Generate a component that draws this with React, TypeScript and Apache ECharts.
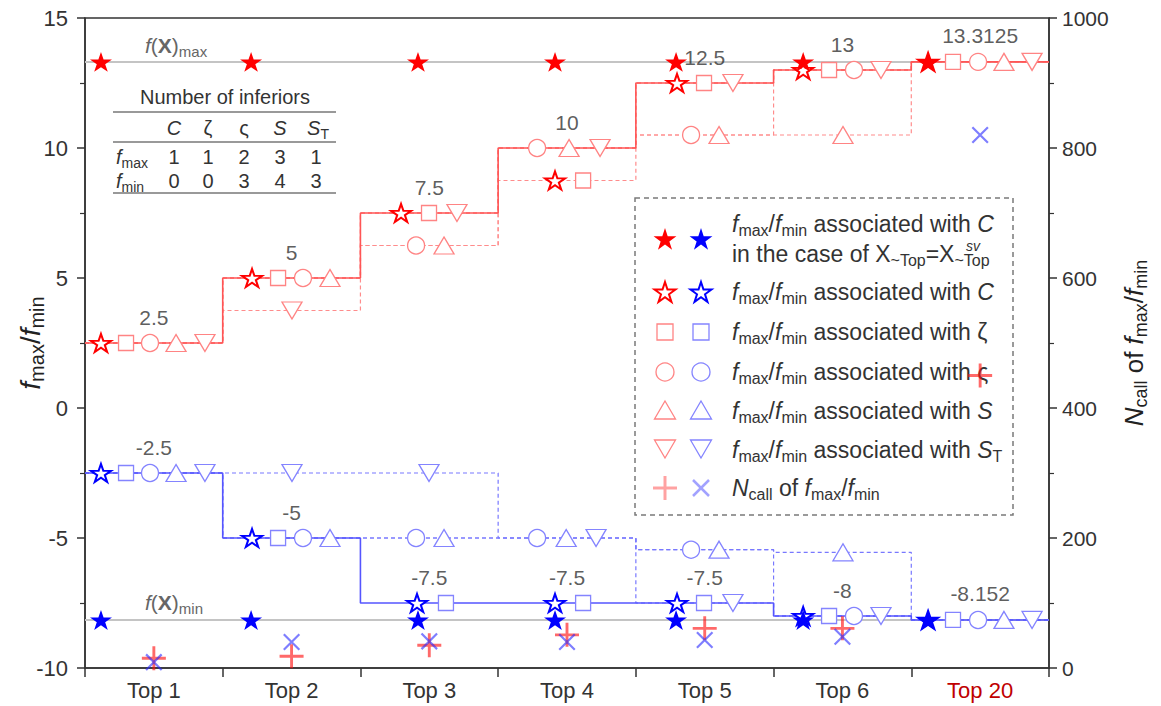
import React, { useEffect, useRef } from 'react';
import * as echarts from 'echarts';

const FONT = '"Liberation Sans", Arial, Helvetica, sans-serif';

const categories = ['Top 1', 'Top 2', 'Top 3', 'Top 4', 'Top 5', 'Top 6', 'Top 20'];

// f(X)max / f(X)min reference values
const fxMaxValue = 13.3125;
const fxMinValue = -8.152;

// f_max associated with each inferior
const fmaxC = [2.5, 5, 7.5, 8.75, 12.5, 13, 13.3125];
const fmaxZeta = [2.5, 5, 7.5, 8.75, 12.5, 13, 13.3125];
const fmaxVs = [2.5, 5, 6.25, 10, 10.5, 13, 13.3125];
const fmaxS = [2.5, 5, 6.25, 10, 10.5, 10.5, 13.3125];
const fmaxST = [2.5, 3.75, 7.5, 10, 12.5, 13, 13.3125];
// f_min associated with each inferior
const fminC = [-2.5, -5, -7.5, -7.5, -7.5, -8, -8.152];
const fminZeta = [-2.5, -5, -7.5, -7.5, -7.5, -8, -8.152];
const fminVs = [-2.5, -5, -5, -5, -5.45, -8, -8.152];
const fminS = [-2.5, -5, -5, -5, -5.45, -5.55, -8.152];
const fminST = [-2.5, -2.5, -2.5, -5, -7.5, -8, -8.152];
// best values (solid step lines, labelled)
const bestMax = [2.5, 5, 7.5, 10, 12.5, 13, 13.3125];
const bestMin = [-2.5, -5, -7.5, -7.5, -7.5, -8, -8.152];
// case X~Top = X^sv~Top
const svMax = [13.3125, 13.3125, 13.3125, 13.3125, 13.3125, 13.3125, 13.3125];
const svMin = [-8.152, -8.152, -8.152, -8.152, -8.152, -8.152, -8.152];
// N_call
const ncallMax = [15, 18, 35, 51, 61, 61, 450];
const ncallMin = [9, 40, 41, 40, 43, 48, 820];
// table: number of inferiors
const inferiorHeads = ['{i|C}', '{n|ζ}', '{n|ς}', '{i|S}', '{i|S}{s|T}'];
const inferiorsMax = [1, 1, 2, 3, 1];
const inferiorsMin = [0, 0, 3, 4, 3];

// slot of each marker inside its category (fraction of the category width)
const slotMaxC = [0.116, 0.213, 0.295, 0.413, 0.299, 0.215, 0.122];
const slotMaxZeta = [0.298, 0.402, 0.498, 0.617, 0.495, 0.403, 0.303];
const slotMaxVs = [0.472, 0.583, 0.404, 0.283, 0.401, 0.584, 0.485];
const slotMaxS = [0.661, 0.779, 0.607, 0.515, 0.604, 0.504, 0.673];
const slotMaxST = [0.871, 0.503, 0.701, 0.74, 0.705, 0.78, 0.877];
const slotMinC = [0.116, 0.213, 0.411, 0.413, 0.299, 0.215, 0.122];
const slotMinZeta = [0.298, 0.402, 0.621, 0.617, 0.495, 0.403, 0.303];
const slotMinVs = [0.472, 0.583, 0.404, 0.283, 0.401, 0.584, 0.485];
const slotMinS = [0.661, 0.779, 0.607, 0.494, 0.604, 0.504, 0.673];
const slotMinST = [0.871, 0.503, 0.498, 0.711, 0.705, 0.78, 0.877];
const slotSv = [0.116, 0.206, 0.418, 0.413, 0.292, 0.215, 0.122];

const STAR = 'path://M50,0 L61.23,34.55 L97.55,34.55 L68.17,55.9 L79.39,90.45 L50,69.1 L20.61,90.45 L31.83,55.9 L2.45,34.55 L38.77,34.55 Z';
const PLUS = 'path://M0,44 L100,44 L100,56 L0,56 Z M44,0 L56,0 L56,100 L44,100 Z';
const CROSS = 'path://M0,45 L100,45 L100,55 L0,55 Z M45,0 L55,0 L55,100 L45,100 Z';

const RED = '#ff0000';
const BLUE = '#0000ff';
const RED_LINE = '#ff5555';
const BLUE_LINE = '#5555ff';
const RED_MK = '#ff8484';
const BLUE_MK = '#8484ff';
const RED_DASH = '#ff8c8c';
const BLUE_DASH = '#7878ff';
const TXT = '#333333';

const stepPts = (vals: number[]) => vals.flatMap((v, i) => [[i, v], [i + 1, v]]);

const stepSeries = (vals: number[], color: string, width: number, dashed: boolean, z: number) => ({
  type: 'line',
  xAxisIndex: 1,
  yAxisIndex: 0,
  data: stepPts(vals),
  symbol: 'none',
  silent: true,
  z,
  lineStyle: { color, width, type: dashed ? [4, 3] : 'solid' },
});

const markSeries = (
  vals: number[], slots: number[], symbol: string, size: any, border: string,
  fill: string, bw: number, z: number, rotate = 0,
) => ({
  type: 'scatter',
  xAxisIndex: 1,
  yAxisIndex: 0,
  data: vals.map((v, i) => [i + slots[i], v]),
  symbol,
  symbolSize: size,
  symbolRotate: rotate,
  symbolKeepAspect: true,
  silent: true,
  z,
  itemStyle: { color: fill, borderColor: border, borderWidth: bw, opacity: 1 },
});

const aRich = (fs: number, color: string) => ({
  n: { fontSize: fs, fontFamily: FONT, color, lineHeight: fs + 6 },
  i: { fontSize: fs, fontFamily: FONT, fontStyle: 'italic', color, lineHeight: fs + 6 },
  s: { fontSize: Math.round(fs * 0.7), fontFamily: FONT, color, lineHeight: Math.round(fs * 0.7), verticalAlign: 'bottom' },
});

const gRich = (fs: number, color: string) => ({
  n: { fontSize: fs, fontFamily: FONT, fill: color, lineHeight: fs + 6 },
  i: { fontSize: fs, fontFamily: FONT, fontStyle: 'italic', fill: color, lineHeight: fs + 6 },
  b: { fontSize: fs, fontFamily: FONT, fontWeight: 'bold', fill: color, lineHeight: fs + 6 },
  s: { fontSize: Math.round(fs * 0.7), fontFamily: FONT, fill: color, lineHeight: Math.round(fs * 0.7), verticalAlign: 'bottom' },
});

const gText = (x: number, y: number, text: string, fs: number, color: string, align = 'left', italic = false) => ({
  type: 'text',
  x,
  y,
  z: 1,
  silent: true,
  style: {
    text,
    rich: gRich(fs, color),
    fontSize: fs,
    fontFamily: FONT,
    fontStyle: italic ? 'italic' : 'normal',
    fill: color,
    align,
    textAlign: align,
    verticalAlign: 'middle',
    textVerticalAlign: 'middle',
  },
});

const starPts = (cx: number, cy: number, R: number) => {
  const pts: number[][] = [];
  for (let k = 0; k < 10; k++) {
    const r = k % 2 === 0 ? R : R * 0.382;
    const a = -Math.PI / 2 + (k * Math.PI) / 5;
    pts.push([cx + r * Math.cos(a), cy + 1 + r * Math.sin(a)]);
  }
  return pts;
};

const gLine = (x1: number, y1: number, x2: number, y2: number, stroke: string, lineWidth: number) => ({
  type: 'line', z: 1, silent: true, shape: { x1, y1, x2, y2 }, style: { stroke, lineWidth },
});

function buildGraphic() {
  const els: any[] = [];
  // f(X)max / f(X)min captions
  els.push(gText(145, 45, '{i|f}{n|(}{b|X}{n|)}{s|max}', 21, '#666666'));
  els.push(gText(145, 602, '{i|f}{n|(}{b|X}{n|)}{s|min}', 21, '#666666'));

  // table
  els.push(gText(225, 97, 'Number of inferiors', 20, TXT, 'center'));
  els.push(gLine(113, 112, 336, 112, '#777777', 1.5));
  els.push(gLine(113, 142, 336, 142, '#777777', 1.5));
  els.push(gLine(113, 193, 336, 193, '#777777', 1.5));
  const colX = [174, 208, 244, 280, 318];
  inferiorHeads.forEach((h, k) => els.push(gText(colX[k], 128, h, 20, TXT, 'center')));
  els.push(gText(116, 157, '{i|f}{s|max}', 20, TXT));
  els.push(gText(116, 181, '{i|f}{s|min}', 20, TXT));
  inferiorsMax.forEach((v, k) => els.push(gText(colX[k] - (k === 4 ? 2 : 0), 157, String(v), 20, TXT, 'center')));
  inferiorsMin.forEach((v, k) => els.push(gText(colX[k] - (k === 4 ? 2 : 0), 181, String(v), 20, TXT, 'center')));

  // legend box
  els.push({
    type: 'rect', z: 1, silent: true,
    shape: { x: 635, y: 198, width: 378, height: 317 },
    style: { fill: 'none', stroke: '#7a7a7a', lineWidth: 1.5, lineDash: [5, 4] },
  });
  const xr = 665;
  const xb = 701;
  const lt = 732;
  const ff = '{i|f}{s|max}{n|/}{i|f}{s|min}';
  // row 1
  els.push({ type: 'polygon', z: 1, silent: true, shape: { points: starPts(xr, 239, 12) }, style: { fill: RED } });
  els.push({ type: 'polygon', z: 1, silent: true, shape: { points: starPts(xb, 239, 12) }, style: { fill: BLUE } });
  els.push(gText(lt, 224, ff + '{n| associated with }{i|C}', 23, TXT));
  els.push(gText(lt, 254, '{n|in the case of X}{s|~Top}{n|=X}{s|~Top}', 23, TXT));
  els.push(gText(966, 246, 'sv', 14, TXT, 'left', true));
  // row 2
  els.push({ type: 'polygon', z: 1, silent: true, shape: { points: starPts(xr, 292, 11) }, style: { fill: '#fff', stroke: RED, lineWidth: 2 } });
  els.push({ type: 'polygon', z: 1, silent: true, shape: { points: starPts(xb, 292, 11) }, style: { fill: '#fff', stroke: BLUE, lineWidth: 2 } });
  els.push(gText(lt, 292, ff + '{n| associated with }{i|C}', 23, TXT));
  // row 3
  els.push({ type: 'rect', z: 1, silent: true, shape: { x: xr - 8, y: 332 - 8, width: 16, height: 16 }, style: { fill: 'none', stroke: RED_MK, lineWidth: 1.3 } });
  els.push({ type: 'rect', z: 1, silent: true, shape: { x: xb - 8, y: 332 - 8, width: 16, height: 16 }, style: { fill: 'none', stroke: BLUE_MK, lineWidth: 1.3 } });
  els.push(gText(lt, 332, ff + '{n| associated with ζ}', 23, TXT));
  // row 4
  els.push({ type: 'circle', z: 1, silent: true, shape: { cx: xr, cy: 372, r: 9 }, style: { fill: 'none', stroke: RED_MK, lineWidth: 1.3 } });
  els.push({ type: 'circle', z: 1, silent: true, shape: { cx: xb, cy: 372, r: 9 }, style: { fill: 'none', stroke: BLUE_MK, lineWidth: 1.3 } });
  els.push(gText(lt, 372, ff + '{n| associated with ς}', 23, TXT));
  // row 5
  const triUp = (cx: number, cy: number) => [[cx, cy - 10], [cx + 10.5, cy + 8], [cx - 10.5, cy + 8]];
  const triDn = (cx: number, cy: number) => [[cx, cy + 10], [cx + 10.5, cy - 8], [cx - 10.5, cy - 8]];
  els.push({ type: 'polygon', z: 1, silent: true, shape: { points: triUp(xr, 411) }, style: { fill: 'none', stroke: RED_MK, lineWidth: 1.3 } });
  els.push({ type: 'polygon', z: 1, silent: true, shape: { points: triUp(xb, 411) }, style: { fill: 'none', stroke: BLUE_MK, lineWidth: 1.3 } });
  els.push(gText(lt, 411, ff + '{n| associated with }{i|S}', 23, TXT));
  // row 6
  els.push({ type: 'polygon', z: 1, silent: true, shape: { points: triDn(xr, 448) }, style: { fill: 'none', stroke: RED_MK, lineWidth: 1.3 } });
  els.push({ type: 'polygon', z: 1, silent: true, shape: { points: triDn(xb, 448) }, style: { fill: 'none', stroke: BLUE_MK, lineWidth: 1.3 } });
  els.push(gText(lt, 450, ff + '{n| associated with }{i|S}{s|T}', 23, TXT));
  // row 7
  els.push(gLine(xr - 12, 488, xr + 12, 488, '#ffa2a2', 3));
  els.push(gLine(xr, 476, xr, 500, '#ffa2a2', 3));
  els.push(gLine(xb - 8, 480, xb + 8, 496, '#a2a2ff', 2.5));
  els.push(gLine(xb - 8, 496, xb + 8, 480, '#a2a2ff', 2.5));
  els.push(gText(lt, 488, '{i|N}{s|call}{n| of }' + ff, 23, TXT));
  return els;
}

function buildOption() {
  const series: any[] = [
    // reference lines
    { type: 'line', xAxisIndex: 1, yAxisIndex: 0, data: [[0, fxMaxValue], [7, fxMaxValue]], symbol: 'none', silent: true, z: 1, lineStyle: { color: '#c4c4c4', width: 2 } },
    { type: 'line', xAxisIndex: 1, yAxisIndex: 0, data: [[0, fxMinValue], [7, fxMinValue]], symbol: 'none', silent: true, z: 1, lineStyle: { color: '#c4c4c4', width: 2 } },
    // dashed per-inferior paths
    stepSeries(fmaxC, RED_DASH, 1.2, true, 2),
    stepSeries(fmaxVs, RED_DASH, 1.2, true, 2),
    stepSeries(fmaxS, RED_DASH, 1.2, true, 2),
    stepSeries(fmaxST, RED_DASH, 1.2, true, 2),
    stepSeries(fminVs, BLUE_DASH, 1.2, true, 2),
    stepSeries(fminS, BLUE_DASH, 1.2, true, 2),
    stepSeries(fminST, BLUE_DASH, 1.2, true, 2),
    // solid best lines
    stepSeries(bestMax, RED_LINE, 1.6, false, 3),
    stepSeries(bestMin, BLUE_LINE, 1.6, false, 3),
    // markers red
    markSeries(fmaxZeta, slotMaxZeta, 'rect', 15, RED_MK, '#ffffff', 1.3, 4),
    markSeries(fmaxVs, slotMaxVs, 'circle', 17, RED_MK, '#ffffff', 1.3, 4),
    markSeries(fmaxS, slotMaxS, 'triangle', [20, 17], RED_MK, '#ffffff', 1.3, 4),
    markSeries(fmaxST, slotMaxST, 'triangle', [20, 17], RED_MK, '#ffffff', 1.3, 4, 180),
    markSeries(fmaxC, slotMaxC, STAR, [20, 19], RED, '#ffffff', 2, 5),
    // markers blue
    markSeries(fminZeta, slotMinZeta, 'rect', 15, BLUE_MK, '#ffffff', 1.3, 4),
    markSeries(fminVs, slotMinVs, 'circle', 17, BLUE_MK, '#ffffff', 1.3, 4),
    markSeries(fminS, slotMinS, 'triangle', [20, 17], BLUE_MK, '#ffffff', 1.3, 4),
    markSeries(fminST, slotMinST, 'triangle', [20, 17], BLUE_MK, '#ffffff', 1.3, 4, 180),
    markSeries(fminC, slotMinC, STAR, [20, 19], BLUE, '#ffffff', 2, 5),
    // sv filled stars
    markSeries(svMax, slotSv, STAR, [22, 21], RED, RED, 0, 6),
    markSeries(svMin, slotSv, STAR, [22, 21], BLUE, BLUE, 0, 6),
    // value labels
    {
      type: 'scatter', xAxisIndex: 1, yAxisIndex: 0, silent: true, z: 7,
      data: bestMax.map((v, i) => [i + 0.5, v]), symbolSize: 1, itemStyle: { color: 'rgba(0,0,0,0)' },
      label: { show: true, position: 'top', distance: 15, formatter: (p: any) => String(p.value[1]), fontSize: 21, fontFamily: FONT, color: TXT },
    },
    {
      type: 'scatter', xAxisIndex: 1, yAxisIndex: 0, silent: true, z: 7,
      data: bestMin.map((v, i) => [i + 0.5, v]), symbolSize: 1, itemStyle: { color: 'rgba(0,0,0,0)' },
      label: { show: true, position: 'top', distance: 15, formatter: (p: any) => String(p.value[1]), fontSize: 21, fontFamily: FONT, color: TXT },
    },
    // N_call
    {
      type: 'scatter', xAxisIndex: 1, yAxisIndex: 1, silent: true, z: 20,
      data: ncallMax.map((v, i) => [i + 0.5, v]), symbol: PLUS, symbolSize: 24,
      itemStyle: { color: 'rgba(255,20,20,0.8)' },
    },
    {
      type: 'scatter', xAxisIndex: 1, yAxisIndex: 1, silent: true, z: 20,
      data: ncallMin.map((v, i) => [i + 0.5, v]), symbol: CROSS, symbolSize: 22, symbolRotate: 45,
      itemStyle: { color: 'rgba(40,40,255,0.75)' },
    },
  ];

  return {
    animation: false,
    backgroundColor: '#ffffff',
    textStyle: { fontFamily: FONT },
    grid: {
      left: 85, right: 112, top: 18, bottom: 38, show: true, borderColor: '#333', borderWidth: 1.5,
      backgroundColor: 'transparent', containLabel: false, outerBoundsMode: 'none',
    },
    xAxis: [
      {
        type: 'category', data: categories, boundaryGap: true, position: 'bottom',
        axisLine: { show: true, onZero: false, lineStyle: { color: '#333', width: 1.5 } },
        axisTick: { show: true, inside: false, length: 9, interval: 0, lineStyle: { color: '#333', width: 1.5 } },
        axisLabel: {
          interval: 0, fontSize: 22, fontFamily: FONT, margin: 11, color: TXT,
          formatter: (v: string, i: number) => (i === 6 ? `{r|${v}}` : v),
          rich: { r: { color: '#c00000', fontSize: 22, fontFamily: FONT } },
        },
        splitLine: { show: false },
      },
      { type: 'value', min: 0, max: 7, show: false, axisLine: { onZero: false } },
    ],
    yAxis: [
      {
        type: 'value', min: -10, max: 15, interval: 5, position: 'left',
        axisLine: { show: true, onZero: false, lineStyle: { color: '#333', width: 1.5 } },
        axisTick: { show: true, inside: false, length: 8, lineStyle: { color: '#333', width: 1.5 } },
        minorTick: { show: true, splitNumber: 2, length: 5, lineStyle: { color: '#333', width: 1.2 } },
        axisLabel: { fontSize: 22, fontFamily: FONT, color: TXT, margin: 17, formatter: (v: number) => String(v) },
        splitLine: { show: false },
        name: '{i|f}{s|max}{n|/}{i|f}{s|min}',
        nameLocation: 'middle', nameRotate: 90, nameGap: 38, nameMoveOverlap: false,
        nameTextStyle: { rich: aRich(28, '#222') },
      },
      {
        type: 'value', min: 0, max: 1000, interval: 200, position: 'right',
        axisLine: { show: true, onZero: false, lineStyle: { color: '#333', width: 1.5 } },
        axisTick: { show: true, inside: false, length: 8, lineStyle: { color: '#333', width: 1.5 } },
        minorTick: { show: true, splitNumber: 2, length: 5, lineStyle: { color: '#333', width: 1.2 } },
        axisLabel: { fontSize: 21, fontFamily: FONT, color: TXT, margin: 13, formatter: (v: number) => String(v) },
        splitLine: { show: false },
        name: '{i|N}{s|call}{n| of }{i|f}{s|max}{n|/}{i|f}{s|min}',
        nameLocation: 'middle', nameRotate: 90, nameGap: 69, nameMoveOverlap: false,
        nameTextStyle: { rich: aRich(26, '#222') },
      },
    ],
    graphic: { elements: buildGraphic() },
    series,
  };
}

export default function App() {
  const ref = useRef<HTMLDivElement>(null);
  useEffect(() => {
    if (!ref.current) return;
    const chart = echarts.init(ref.current, undefined, { renderer: 'svg' });
    chart.setOption(buildOption() as any);
    return () => chart.dispose();
  }, []);
  return (
    <div
      ref={ref}
      style={{ position: 'absolute', left: 0, top: 0, width: 1161, height: 706, background: '#ffffff' }}
    />
  );
}
